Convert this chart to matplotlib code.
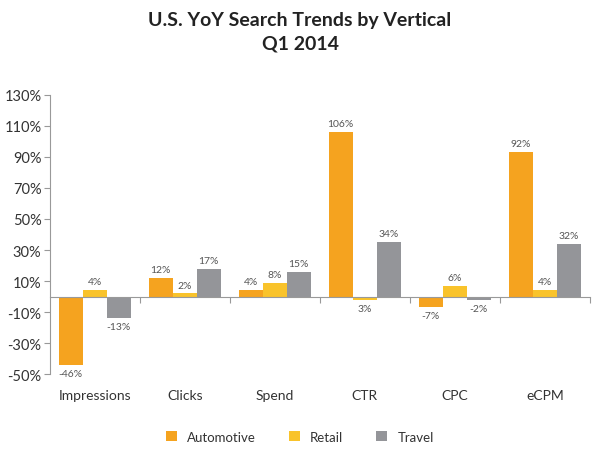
import numpy as np
import matplotlib
matplotlib.use('Agg')
import matplotlib.pyplot as plt
from matplotlib.transforms import blended_transform_factory

categories = ['Impressions', 'Clicks', 'Spend', 'CTR', 'CPC', 'eCPM']
automotive = [-44, 12, 4, 106, -7, 93]
retail = [4, 2, 9, -2, 7, 4]
travel = [-14, 18, 16, 35, -2, 34]
auto_labels = ['-46%', '12%', '4%', '106%', '-7%', '92%']
retail_labels = ['4%', '2%', '8%', '3%', '6%', '4%']
travel_labels = ['-13%', '17%', '15%', '34%', '-2%', '32%']
yticks = [130, 110, 90, 70, 50, 30, 10, -10, -30, -50]

series = [('Automotive', automotive, auto_labels, '#F5A31F'),
          ('Retail', retail, retail_labels, '#F9C32B'),
          ('Travel', travel, travel_labels, '#949599')]

plt.rcParams['font.family'] = ['Lato', 'DejaVu Sans']
fig = plt.figure(figsize=(6, 4.52), dpi=100)
ax = fig.add_axes([0.083, 0.170, 0.900, 0.618])

x = np.arange(len(categories))
w = 0.267
txt = '#555555'
for j, (name, vals, labs, col) in enumerate(series):
    pos = x + (j - 1) * w
    ax.bar(pos, vals, w, color=col, label=name, zorder=2)
    for px, v, lab in zip(pos, vals, labs):
        if v >= 0:
            ax.text(px, v + 2.5, lab, ha='center', va='bottom', fontsize=7.5, color=txt)
        else:
            ax.text(px, v - 2.5, lab, ha='center', va='top', fontsize=7.5, color=txt)

ax.set_xlim(-0.5, 5.5)
ax.set_ylim(-50, 130)
ax.set_yticks(yticks)
ax.set_yticklabels(['%d%%' % t for t in yticks], fontsize=10.5, color='#333333')
ax.tick_params(axis='y', length=4, color='#999999', pad=2)

for s in ['top', 'right']:
    ax.spines[s].set_visible(False)
ax.spines['left'].set_color('#999999')
ax.spines['bottom'].set_position(('data', 0))
ax.spines['bottom'].set_color('#999999')
ax.spines['bottom'].set_zorder(3)
ax.set_xticks(np.arange(0.5, 6, 1))
ax.set_xticklabels([])
ax.tick_params(axis='x', length=4, color='#999999')

trans = blended_transform_factory(ax.transData, ax.transAxes)
for i, c in enumerate(categories):
    ax.text(i, -0.075, c, transform=trans, ha='center', va='center', fontsize=10, color='#333333')

fig.text(0.5, 0.955, 'U.S. YoY Search Trends by Vertical', ha='center', va='center',
         fontsize=14, fontweight='bold', color='#222222')
fig.text(0.5, 0.903, 'Q1 2014', ha='center', va='center',
         fontsize=14, fontweight='bold', color='#222222')

ax.legend(loc='center', bbox_to_anchor=(0.5, 0.032), bbox_transform=fig.transFigure,
          ncol=3, frameon=False, fontsize=9.5, handlelength=0.8, handleheight=0.8,
          columnspacing=2.5, labelcolor='#333333')

fig.savefig('out.png', dpi=100)
